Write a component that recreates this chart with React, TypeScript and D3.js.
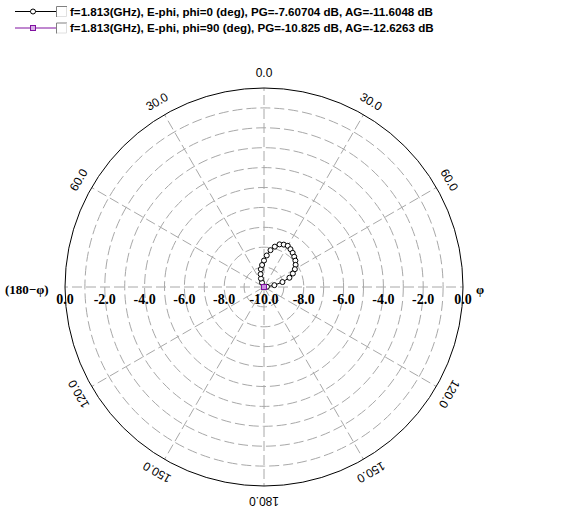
import React from "react";
import * as d3 from "d3";

// ---- data ----
const radialTicks = [0, -2, -4, -6, -8, -10];
const gridLevels = [-9, -8, -7, -6, -5, -4, -3, -2, -1];
const spokeAngles = [0, 30, 60, 90, 120, 150, 180, 210, 240, 270, 300, 330];
const angleLabels = [
  { a: 0, t: "0.0" },
  { a: 30, t: "30.0" },
  { a: 60, t: "60.0" },
  { a: 120, t: "120.0" },
  { a: 150, t: "150.0" },
  { a: 180, t: "180.0" },
  { a: -150, t: "150.0" },
  { a: -120, t: "120.0" },
  { a: -60, t: "60.0" },
  { a: -30, t: "30.0" },
];

const thetaPhi0 = [-30, -25, -20, -15, -10, -5, 0, 5, 10, 15, 20, 25, 30, 35, 40, 45, 50, 55, 60, 65, 70, 75, 80, 85, 90];
const gainPhi0 = [-10.4, -9.76, -9.55, -9.33, -9.09, -8.89, -8.67, -8.41, -8.12, -7.9, -7.72, -7.65, -7.61, -7.68, -7.76, -7.85, -7.94, -8.06, -8.21, -8.4, -8.64, -9.04, -9.47, -9.85, -10.3];

const thetaPhi90 = [-30, 0, 30];
const gainPhi90 = [-11.6, -10.83, -11.4];

const legendLabels = [
  "f=1.813(GHz), E-phi, phi=0 (deg), PG=-7.60704 dB, AG=-11.6048 dB",
  "f=1.813(GHz), E-phi, phi=90 (deg), PG=-10.825 dB, AG=-12.6263 dB",
];

// ---- layout ----
const W = 566;
const H = 518;
const cx = 264;
const cy = 287;
const R = 199;
const GRID = "#a8a8a8";
const PURPLE = "#8010a0";

const rScale = d3.scaleLinear().domain([-10, 0]).range([0, R]).clamp(true);
const rad = (deg: number) => (deg * Math.PI) / 180;
const px = (theta: number, r: number) => cx + r * Math.sin(rad(theta));
const py = (theta: number, r: number) => cy - r * Math.cos(rad(theta));

type Pt = { t: number; g: number };
const toPts = (th: number[], g: number[]): Pt[] => th.map((t, i) => ({ t, g: g[i] }));
const lineGen = d3
  .line<Pt>()
  .x((d) => px(d.t, rScale(d.g)))
  .y((d) => py(d.t, rScale(d.g)));

const series0 = toPts(thetaPhi0, gainPhi0);
const series90 = toPts(thetaPhi90, gainPhi90);

function Checkbox({ x, y }: { x: number; y: number }) {
  const s = 11;
  return (
    <g>
      <rect x={x} y={y} width={s} height={s} fill="#ffffff" />
      <path d={`M${x + 0.5},${y + s} V${y + 0.5} H${x + s}`} stroke="#808080" fill="none" />
      <path d={`M${x + s - 0.5},${y + 1} V${y + s - 0.5} H${x + 1}`} stroke="#e0e0e0" fill="none" />
    </g>
  );
}

export default function App() {
  const labelFont = "'Liberation Serif', 'Times New Roman', serif";
  const sansFont = "'Liberation Sans', Arial, sans-serif";
  return (
    <svg
      width={W}
      height={H}
      style={{ position: "absolute", left: 0, top: 0, background: "#ffffff" }}
    >
      <rect x={0} y={0} width={W} height={H} fill="#ffffff" />

      {/* legend */}
      {legendLabels.map((t, i) => {
        const y = 11 + i * 16.5;
        const col = i === 0 ? "#000000" : PURPLE;
        return (
          <g key={i}>
            <line x1={15} x2={57} y1={y + 0.5} y2={y + 0.5} stroke={col} />
            {i === 0 ? (
              <circle cx={33} cy={y + 0.5} r={2.5} fill="#ffffff" stroke={col} />
            ) : (
              <rect x={30.5} y={y - 2} width={5} height={5} fill="#d8b0e8" stroke={col} />
            )}
            <Checkbox x={56} y={y - 5} />
            <text
              x={70}
              y={y}
              dominantBaseline="central"
              fontFamily={sansFont}
              fontWeight="bold"
              fontSize={11.6}
              fill="#000000"
            >
              {t}
            </text>
          </g>
        );
      })}

      {/* grid circles */}
      {gridLevels.map((v) => (
        <circle
          key={v}
          cx={cx}
          cy={cy}
          r={rScale(v)}
          fill="none"
          stroke={GRID}
          strokeDasharray="10,4"
        />
      ))}
      {/* spokes */}
      {spokeAngles.map((a) => (
        <line
          key={a}
          x1={cx}
          y1={cy}
          x2={px(a, R)}
          y2={py(a, R)}
          stroke={GRID}
          strokeDasharray="10,4"
        />
      ))}
      {/* outer circle */}
      <circle cx={cx} cy={cy} r={R} fill="none" stroke="#000000" />

      {/* angle labels */}
      {angleLabels.map((l, i) => (
        <text
          key={i}
          transform={`translate(${px(l.a, 214)},${py(l.a, 214)}) rotate(${l.a})`}
          textAnchor="middle"
          dominantBaseline="central"
          fontFamily={sansFont}
          fontSize={12}
          fill="#000000"
        >
          {l.t}
        </text>
      ))}

      {/* radial labels */}
      {radialTicks.map((v) => (
        <text
          key={"l" + v}
          x={cx - rScale(v)}
          y={cy + 12}
          textAnchor="middle"
          dominantBaseline="central"
          fontFamily={labelFont}
          fontWeight="bold"
          fontSize={14}
          fill="#000000"
        >
          {v.toFixed(1)}
        </text>
      ))}
      {radialTicks
        .filter((v) => v !== -10)
        .map((v) => (
          <text
            key={"r" + v}
            x={cx + rScale(v)}
            y={cy + 12}
            textAnchor="middle"
            dominantBaseline="central"
            fontFamily={labelFont}
            fontWeight="bold"
            fontSize={14}
            fill="#000000"
          >
            {v.toFixed(1)}
          </text>
        ))}
      <text
        x={5}
        y={cy + 2}
        dominantBaseline="central"
        fontFamily={labelFont}
        fontWeight="bold"
        fontSize={13}
        fill="#000000"
      >
        (180−φ)
      </text>
      <text
        x={476}
        y={cy + 2}
        dominantBaseline="central"
        fontFamily={labelFont}
        fontWeight="bold"
        fontSize={13}
        fill="#000000"
      >
        φ
      </text>

      {/* curves */}
      <path d={lineGen(series0) || ""} fill="none" stroke="#000000" />
      {series0.map((d, i) => (
        <circle
          key={i}
          cx={px(d.t, rScale(d.g))}
          cy={py(d.t, rScale(d.g))}
          r={2.5}
          fill="#ffffff"
          stroke="#000000"
        />
      ))}
      <path d={lineGen(series90) || ""} fill="none" stroke={PURPLE} />
      {series90.map((d, i) => (
        <rect
          key={i}
          x={px(d.t, rScale(d.g)) - 2.5}
          y={py(d.t, rScale(d.g)) - 2.5}
          width={5}
          height={5}
          fill="#c890e0"
          stroke={PURPLE}
        />
      ))}
    </svg>
  );
}
